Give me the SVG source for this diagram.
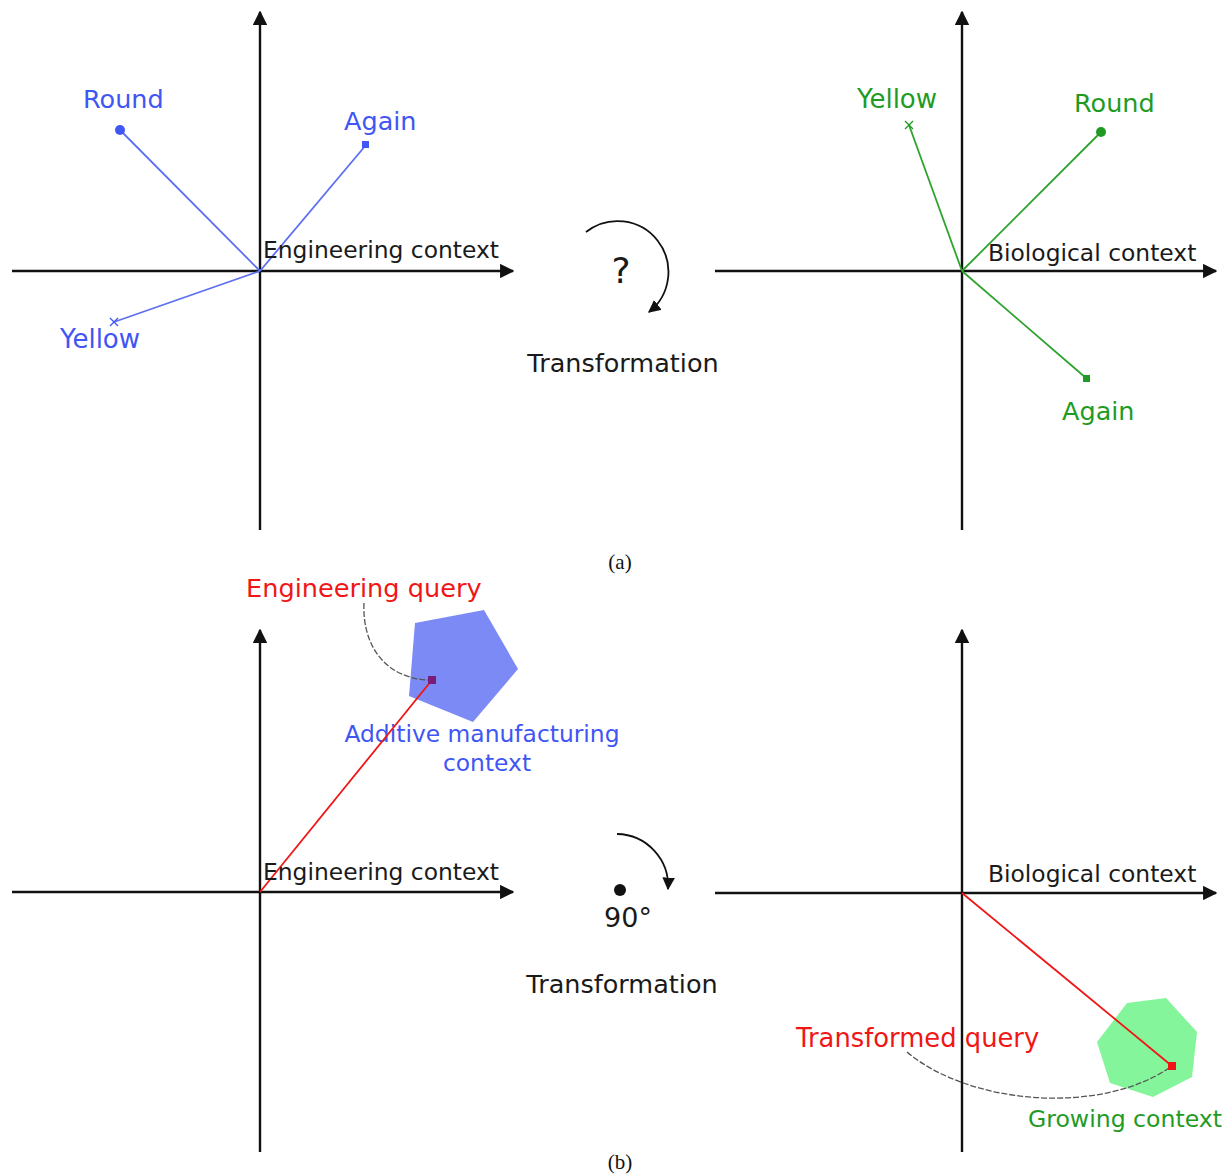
<svg xmlns="http://www.w3.org/2000/svg" width="1228" height="1176" viewBox="0 0 1228 1176">
  <style>
    .lbl { font-family: "DejaVu Sans", Verdana, sans-serif; }
    .ctx { font-size: 23.4px; fill: #1a1a1a; }
    .big { font-size: 25.5px; }
    .blue { fill: #3f55f4; }
    .green { fill: #1f9b24; }
    .red { fill: #f01616; }
    .dark { fill: #1a1a1a; }
    .axis { stroke: #111; stroke-width: 2.4; fill: none; }
    .vb { stroke: #5d70f2; stroke-width: 1.8; fill: none; }
    .vg { stroke: #2fa32f; stroke-width: 1.8; fill: none; }
    .vr { stroke: #f01616; stroke-width: 1.8; fill: none; }
    .lead { stroke: #555; stroke-width: 1.3; stroke-dasharray: 6 2; fill: none; }
    .rot { stroke: #111; stroke-width: 1.8; fill: none; }
    .cap { font-family: "Liberation Serif", "Times New Roman", serif; font-size: 21px; fill: #111; }
  </style>
  <defs>
    <marker id="axisHead" viewBox="0 0 10 10" refX="9" refY="5" markerWidth="6" markerHeight="6" markerUnits="strokeWidth" orient="auto">
      <path d="M0,0 L10,5 L0,10 Z" fill="#111"/>
    </marker>
    <marker id="rotHead" viewBox="0 0 10 10" refX="9" refY="5" markerWidth="7" markerHeight="7" markerUnits="strokeWidth" orient="auto">
      <path d="M0,0 L10,5 L0,10 Z" fill="#111"/>
    </marker>
  </defs>
  <rect width="1228" height="1176" fill="#fff"/>

  <!-- axes -->
  <g id="axes">
    <line class="axis" x1="260" y1="530" x2="260" y2="12" marker-end="url(#axisHead)"/>
    <line class="axis" x1="12" y1="271" x2="513" y2="271" marker-end="url(#axisHead)"/>
    <line class="axis" x1="962" y1="530" x2="962" y2="12" marker-end="url(#axisHead)"/>
    <line class="axis" x1="715" y1="271" x2="1216" y2="271" marker-end="url(#axisHead)"/>
    <line class="axis" x1="260" y1="1152" x2="260" y2="630" marker-end="url(#axisHead)"/>
    <line class="axis" x1="12" y1="892" x2="513" y2="892" marker-end="url(#axisHead)"/>
    <line class="axis" x1="962" y1="1152" x2="962" y2="630" marker-end="url(#axisHead)"/>
    <line class="axis" x1="715" y1="893" x2="1216" y2="893" marker-end="url(#axisHead)"/>
  </g>

  <!-- context regions -->
  <g id="am-context">
    <polygon points="415,623 484,610 518,669 473,722 409,696" fill="#7b8af5"/>
    <text class="lbl blue" x="482" y="742" font-size="23.4" text-anchor="middle">Additive manufacturing</text>
    <text class="lbl blue" x="487" y="771" font-size="23.4" text-anchor="middle">context</text>
  </g>
  <g id="growing-context">
    <polygon points="1127,1003 1166,998 1197,1032 1192,1077 1153,1097 1110,1083 1097,1042" fill="#84f59a"/>
    <text class="lbl green" x="1125" y="1127" font-size="23.6" text-anchor="middle">Growing context</text>
  </g>

  <!-- connectors: word vectors, queries, leaders, rotation arrows -->
  <g id="connectors">
    <line class="vb" x1="260" y1="271" x2="120" y2="130"/>
    <line class="vb" x1="260" y1="271" x2="366" y2="145"/>
    <line class="vb" x1="260" y1="271" x2="114" y2="322" stroke-width="1.2"/>
    <line class="vg" x1="962" y1="271" x2="1101" y2="132"/>
    <line class="vg" x1="962" y1="271" x2="1086" y2="378"/>
    <line class="vg" x1="962" y1="271" x2="909" y2="125" stroke-width="1.2"/>
    <line class="vr" x1="260" y1="892" x2="432" y2="680"/>
    <line class="vr" x1="962" y1="893" x2="1172" y2="1066"/>
    <path class="lead" d="M364,603 C362,645 385,678 428,680"/>
    <path class="lead" d="M907,1052 C970,1105 1100,1115 1169,1068"/>
    <path class="rot" d="M586,232 A46,46 0 1 1 649,312" marker-end="url(#rotHead)"/>
    <path class="rot" d="M617,834 A52,52 0 0 1 668,889" marker-end="url(#rotHead)"/>
  </g>

  <!-- engineering space (a) -->
  <g id="eng-a">
    <text class="lbl ctx" x="263" y="258">Engineering context</text>
    <circle cx="120" cy="130" r="5" fill="#3f55f4"/>
    <rect x="362" y="141" width="7" height="7" fill="#3f55f4"/>
    <path d="M110,318 L118,326 M118,318 L110,326" stroke="#3f55f4" stroke-width="1.3"/>
    <text class="lbl big blue" x="83" y="108">Round</text>
    <text class="lbl big blue" x="344" y="130">Again</text>
    <text class="lbl blue" x="60" y="348" font-size="26">Yellow</text>
  </g>

  <!-- transformation (a) -->
  <g id="trans-a">
    <text class="lbl dark" x="621" y="283" font-size="36" text-anchor="middle">?</text>
    <text class="lbl big dark" x="623" y="372" text-anchor="middle">Transformation</text>
  </g>

  <!-- biological space (a) -->
  <g id="bio-a">
    <text class="lbl ctx" x="988" y="261" font-size="23.8">Biological context</text>
    <circle cx="1101" cy="132" r="5" fill="#1f9b24"/>
    <rect x="1083" y="375" width="7" height="7" fill="#1f9b24"/>
    <path d="M905,121 L913,129 M913,121 L905,129" stroke="#1f9b24" stroke-width="1.3"/>
    <text class="lbl green" x="857" y="108" font-size="26">Yellow</text>
    <text class="lbl big green" x="1074" y="112">Round</text>
    <text class="lbl big green" x="1062" y="420">Again</text>
  </g>

  <text class="cap" x="620" y="569" text-anchor="middle">(a)</text>

  <!-- engineering space (b) -->
  <g id="eng-b">
    <text class="lbl ctx" x="263" y="880">Engineering context</text>
    <rect x="428" y="676" width="8" height="8" fill="#7a1d7a"/>
    <text class="lbl red" x="246" y="597" font-size="25.6">Engineering query</text>
  </g>

  <!-- transformation (b) -->
  <g id="trans-b">
    <circle cx="620" cy="890" r="6" fill="#111"/>
    <text class="lbl dark" x="628" y="927" font-size="27" text-anchor="middle">90°</text>
    <text class="lbl big dark" x="622" y="993" text-anchor="middle">Transformation</text>
  </g>

  <!-- biological space (b) -->
  <g id="bio-b">
    <text class="lbl ctx" x="988" y="882" font-size="23.8">Biological context</text>
    <rect x="1168" y="1062" width="8" height="8" fill="#f01616"/>
    <text class="lbl red" x="796" y="1047" font-size="25.8">Transformed query</text>
  </g>

  <text class="cap" x="620" y="1169" text-anchor="middle">(b)</text>
</svg>
